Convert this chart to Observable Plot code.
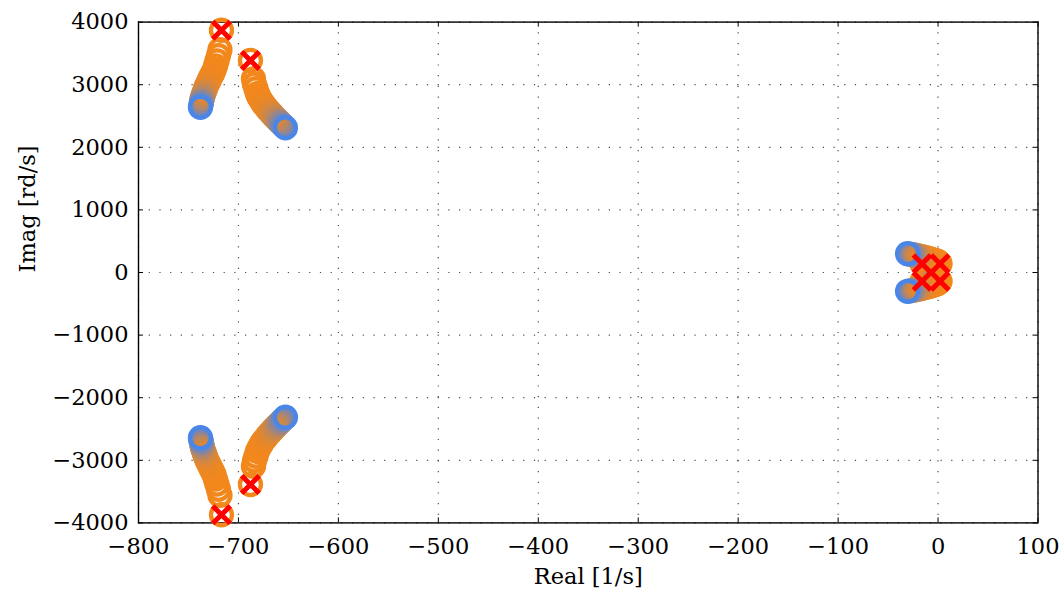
<!DOCTYPE html>
<html><head><meta charset="utf-8">
<script src="https://cdn.jsdelivr.net/npm/d3@7"></script>
<script src="https://cdn.jsdelivr.net/npm/@observablehq/plot@0.6"></script>
<style>body{margin:0;background:#fff}</style>
</head><body><div id="chart"></div>
<script>
// ---- data: pole trajectories [real, imag], from start (blue) to end (red cross) ----
const branchUpperLeft = [[-738,2640],[-737.5,2680],[-737,2720],[-736.5,2760],[-736,2800],[-735,2845],[-734,2890],[-733,2935],[-732,2980],[-730.5,3030],[-729,3080],[-727.5,3130],[-726,3175],[-724.5,3225],[-723,3300],[-721.5,3380],[-720,3465],[-718.5,3560],[-717,3870]];
const branchLowerLeft = [[-738,-2640],[-737.5,-2680],[-737,-2720],[-736.5,-2760],[-736,-2800],[-735,-2845],[-734,-2890],[-733,-2935],[-732,-2980],[-730.5,-3030],[-729,-3080],[-727.5,-3130],[-726,-3175],[-724.5,-3225],[-723,-3300],[-721.5,-3380],[-720,-3465],[-718.5,-3560],[-717,-3870]];
const branchUpperRight = [[-653,2312],[-655.5,2350],[-658,2390],[-660.5,2430],[-663,2470],[-665.5,2512],[-668,2555],[-670.5,2600],[-673,2650],[-675.5,2700],[-677.5,2750],[-679.5,2805],[-681,2860],[-682.5,2935],[-684,3010],[-685,3094],[-688,3387]];
const branchLowerRight = [[-653,-2312],[-655.5,-2350],[-658,-2390],[-660.5,-2430],[-663,-2470],[-665.5,-2512],[-668,-2555],[-670.5,-2600],[-673,-2650],[-675.5,-2700],[-677.5,-2750],[-679.5,-2805],[-681,-2860],[-682.5,-2935],[-684,-3010],[-685,-3094],[-688,-3387]];
const branchInnerUpper = [[-2,150],[-5,148],[-8,146],[-11,144],[-13.5,142],[-16,140]];
const branchInnerLower = [[-2,-150],[-5,-148],[-8,-146],[-11,-144],[-13.5,-142],[-16,-140]];
const branchNearUpper = [[-30.5,300],[-28,292],[-25.5,284],[-23,276],[-20.5,268],[-18,259],[-15.5,250],[-13,240],[-10.5,230],[-8,219],[-5.5,207],[-3,194],[-0.5,180],[1,162],[2,140]];
const branchNearLower = [[-30.5,-300],[-28,-292],[-25.5,-284],[-23,-276],[-20.5,-268],[-18,-259],[-15.5,-250],[-13,-240],[-10.5,-230],[-8,-219],[-5.5,-207],[-3,-194],[-0.5,-180],[1,-162],[2,-140]];

const xTicks = [-800,-700,-600,-500,-400,-300,-200,-100,0,100];
const yTicks = [-4000,-3000,-2000,-1000,0,1000,2000,3000,4000];
const xLabel = "Real [1/s]";
const yLabel = "Imag [rd/s]";

// ---- build table (each branch drawn from its end back to its start, so the blue start ring sits on top) ----
const branches = [branchInnerUpper, branchInnerLower, branchNearUpper, branchNearLower, branchUpperLeft, branchLowerLeft, branchUpperRight, branchLowerRight];
const startColor = "#4a86e8", endColor = "#f2871c";
const mix = d3.interpolateRgb(startColor, endColor);
const rows = [];
branches.forEach(b => {
  for (let i = b.length - 1; i >= 0; i--) {
    const t = i / (b.length - 1);
    rows.push({re: b[i][0], im: b[i][1], color: mix(1 - Math.pow(1 - t, 5))});
  }
});
const ends = branches.map(b => ({re: b[b.length-1][0], im: b[b.length-1][1]}));

const W = 1064, H = 600, mL = 138, mR = 26.5, mT = 21.6, mB = 77.6;
const plotW = W - mL - mR, plotH = H - mT - mB;
const fmt = d => d < 0 ? "\u2212" + Math.abs(d) : String(d);
const FS = 22.5;

const chart = Plot.plot({
  width: W, height: H,
  marginLeft: mL, marginRight: mR, marginTop: mT, marginBottom: mB,
  x: {domain: [-800, 100]},
  y: {domain: [-4000, 4000]},
  color: {type: "identity"},
  style: {fontFamily: "'DejaVu Serif', serif", fontSize: FS + "px", color: "black", background: "white"},
  marks: [
    Plot.gridX(xTicks, {stroke: "#222", strokeOpacity: 0.8, strokeWidth: 1.2, strokeDasharray: "1.2,9.5"}),
    Plot.gridY(yTicks, {stroke: "#222", strokeOpacity: 0.8, strokeWidth: 1.2, strokeDasharray: "1.2,9.5"}),
    Plot.tickX(xTicks, {x: d => d, insetTop: plotH - 5, stroke: "black", strokeWidth: 1}),
    Plot.tickX(xTicks, {x: d => d, insetBottom: plotH - 5, stroke: "black", strokeWidth: 1}),
    Plot.tickY(yTicks, {y: d => d, insetRight: plotW - 5, stroke: "black", strokeWidth: 1}),
    Plot.tickY(yTicks, {y: d => d, insetLeft: plotW - 5, stroke: "black", strokeWidth: 1}),
    Plot.frame({stroke: "black", strokeWidth: 1.4}),
    Plot.axisX({ticks: xTicks, tickSize: 0, tickPadding: 15, tickFormat: fmt, label: null, fontSize: FS}),
    Plot.axisY({ticks: yTicks, tickSize: 0, tickPadding: 10, tickFormat: fmt, label: null, fontSize: FS}),
    Plot.dot(rows, {x: "re", y: "im", r: 10.5, fill: "none", stroke: "color", strokeWidth: 4.3}),
    Plot.dot(ends, {x: "re", y: "im", symbol: "times", r: 8, stroke: "#ff0000", strokeWidth: 5}),
    Plot.text([xLabel], {frameAnchor: "bottom", dy: 61, fontSize: FS, fill: "black"}),
    Plot.text([yLabel], {frameAnchor: "left", dx: -111, rotate: -90, fontSize: FS, fill: "black"})
  ]
});
document.getElementById("chart").appendChild(chart);
</script></body></html>
